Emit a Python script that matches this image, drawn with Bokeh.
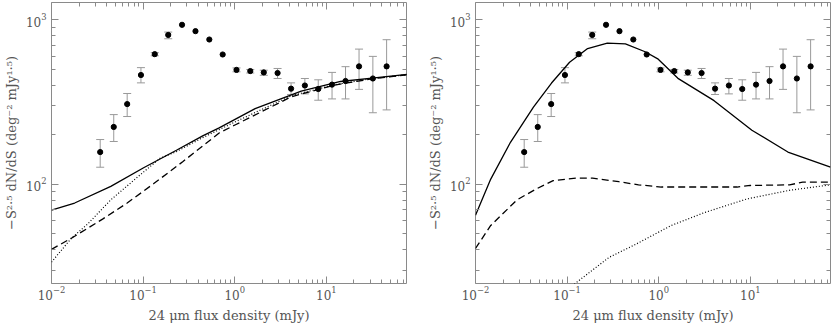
from bokeh.plotting import figure
from bokeh.models import (FixedTicker, LogAxis, LogTickFormatter, CustomJSTickFormatter,
                          ColumnDataSource, Whisker, TeeHead, Range1d)
from bokeh.layouts import row
from bokeh.embed import file_html
from bokeh.resources import INLINE

# ---------------- data ----------------
S_obs = [0.0340, 0.0478, 0.0670, 0.0947, 0.134, 0.188, 0.266, 0.373, 0.528, 0.739, 1.046,
         1.479, 2.076, 2.936, 4.122, 5.83, 8.16, 11.54, 16.20, 22.75, 32.2, 45.5]
counts = [157, 223, 307, 461, 617, 807, 930, 851, 757, 614, 495,
          487, 478, 474, 381, 398, 379, 403, 424, 520, 439, 520]
err_lo = [127, 182, 258, 413, 603, 765, 930, 851, 757, 614, 482,
          474, 459, 439, 351, 354, 324, 330, 330, 377, 272, 283]
err_hi = [187, 265, 356, 511, 630, 840, 930, 851, 757, 614, 509,
          498, 493, 505, 413, 439, 431, 478, 518, 662, 598, 755]

# left panel model curves
L_solid_S = [0.01, 0.0179, 0.0444, 0.1013, 0.231, 0.447, 0.676, 1.67, 5.32, 14.3, 35.5, 77]
L_solid_v = [69.8, 77, 97.1, 126, 161, 197, 220, 288, 368, 421, 444, 465]
L_dash_S = [0.01, 0.0165, 0.0361, 0.067, 0.1297, 0.2726, 0.676, 1.02, 4.15, 12.1, 30, 77]
L_dash_v = [40.3, 47.1, 61.5, 77, 100.7, 137.6, 205, 230, 340, 400, 435, 463]
L_dot_S = [0.01, 0.0165, 0.0249, 0.0444, 0.0858, 0.153, 0.231, 0.447, 1.02, 4.15, 12.1, 30, 77]
L_dot_v = [33.7, 47.1, 57.5, 80.5, 110, 144, 158, 192, 240, 345, 402, 437, 463]

# right panel model curves
R_solid_S = [0.01, 0.01467, 0.02408, 0.0429, 0.0676, 0.1064, 0.1674, 0.2747, 0.433, 0.7105,
             0.988, 1.62, 4.02, 10.4, 25.7, 75]
R_solid_v = [64.9, 107.6, 180, 294, 412, 551, 667, 720, 713, 638, 575, 440, 322, 213, 157, 127]
R_dash_S = [0.01, 0.01467, 0.0284, 0.0466, 0.0704, 0.1256, 0.1894, 0.367, 0.602, 1.07, 7.16,
            9.95, 26.8, 37.3, 75]
R_dash_v = [40.8, 56.3, 80.5, 94.1, 105.2, 109.1, 109.1, 103.8, 99.3, 96.3, 96.3, 98.4, 99.3,
            103, 103]
R_dot_S = [0.1, 0.1256, 0.2864, 0.5546, 1.374, 3.14, 9.17, 26.8, 75]
R_dot_v = [23, 25.3, 36, 43.1, 56.3, 67.3, 81.5, 92, 99.3]

x_major = [0.01, 0.1, 1, 10]
x_minor = [0.02, 0.03, 0.04, 0.05, 0.06, 0.07, 0.08, 0.09,
           0.2, 0.3, 0.4, 0.5, 0.6, 0.7, 0.8, 0.9,
           2, 3, 4, 5, 6, 7, 8, 9,
           20, 30, 40, 50, 60, 70, 80, 90]
y_major = [100, 1000]
y_minor = [30, 40, 50, 60, 70, 80, 90, 200, 300, 400, 500, 600, 700, 800, 900]

X_RANGE = (0.01, 75)
Y_RANGE = (25, 1270)

XLABEL = "24 \u03bcm flux density (mJy)"
YLABEL = "\u2212S\u00b2\u00b7\u2075 dN/dS (deg\u207b\u00b2 mJy\u00b9\u00b7\u2075)"

FONT = "DejaVu Serif"
TICK = "#8a8a8a"
TXT = "#555555"


def style_axis(ax, labels=True):
    ax.major_tick_in = 7
    ax.major_tick_out = 0
    ax.minor_tick_in = 4
    ax.minor_tick_out = 0
    ax.major_tick_line_color = TICK
    ax.minor_tick_line_color = TICK
    ax.axis_line_color = None
    ax.major_label_text_font = FONT
    ax.major_label_text_font_size = "12px"
    ax.major_label_text_color = TXT
    ax.axis_label_text_font = FONT
    ax.axis_label_text_font_size = "13px"
    ax.axis_label_text_font_style = "normal"
    ax.axis_label_text_color = TXT
    if not labels:
        ax.major_label_standoff = 0


def make_panel(curves, border_left, border_right):
    p = figure(frame_width=355, frame_height=281,
               x_axis_type="log", y_axis_type="log",
               x_range=Range1d(*X_RANGE), y_range=Range1d(*Y_RANGE),
               output_backend="svg", toolbar_location=None,
               min_border_left=border_left, min_border_right=border_right,
               min_border_top=2, min_border_bottom=10)
    p.grid.visible = False
    p.outline_line_color = TICK
    p.outline_line_width = 1
    p.background_fill_color = "white"
    p.border_fill_color = "white"

    p.xaxis.ticker = FixedTicker(ticks=x_major, minor_ticks=x_minor)
    p.yaxis.ticker = FixedTicker(ticks=y_major, minor_ticks=y_minor)
    p.xaxis.formatter = LogTickFormatter()
    p.yaxis.formatter = LogTickFormatter()
    p.xaxis.axis_label = XLABEL
    p.yaxis.axis_label = YLABEL
    p.xaxis.major_label_standoff = 2
    p.xaxis.axis_label_standoff = 5
    p.yaxis.major_label_standoff = 5
    p.yaxis.axis_label_standoff = 4
    for ax in p.xaxis + p.yaxis:
        style_axis(ax)

    blank = CustomJSTickFormatter(code="return ''")
    top = LogAxis(ticker=FixedTicker(ticks=x_major, minor_ticks=x_minor), formatter=blank)
    right = LogAxis(ticker=FixedTicker(ticks=y_major, minor_ticks=y_minor), formatter=blank)
    style_axis(top, labels=False)
    style_axis(right, labels=False)
    top.major_label_text_font_size = "0px"
    right.major_label_text_font_size = "0px"
    p.add_layout(top, "above")
    p.add_layout(right, "right")

    (ss, sv), (ds, dv), (os_, ov) = curves
    p.line(ss, sv, line_color="black", line_width=1.3)
    p.line(ds, dv, line_color="black", line_width=1.3, line_dash="7 4")
    p.line(os_, ov, line_color="black", line_width=1.2, line_dash="1 2")

    keep = [i for i in range(len(S_obs)) if err_hi[i] > err_lo[i]]
    src = ColumnDataSource(dict(x=[S_obs[i] for i in keep],
                                lo=[err_lo[i] for i in keep],
                                hi=[err_hi[i] for i in keep]))
    w = Whisker(source=src, base="x", lower="lo", upper="hi", dimension="height",
                line_color="#999999", line_width=1,
                upper_head=TeeHead(size=8, line_color="#999999", line_width=1),
                lower_head=TeeHead(size=8, line_color="#999999", line_width=1))
    p.add_layout(w)
    p.scatter(S_obs, counts, size=5.2, fill_color="black", line_color="black")
    return p


p1 = make_panel(((L_solid_S, L_solid_v), (L_dash_S, L_dash_v), (L_dot_S, L_dot_v)), 38, 18)
p2 = make_panel(((R_solid_S, R_solid_v), (R_dash_S, R_dash_v), (R_dot_S, R_dot_v)), 38, 2)

layout = row(p1, p2)
open("out.html", "w").write(file_html(layout, INLINE))
